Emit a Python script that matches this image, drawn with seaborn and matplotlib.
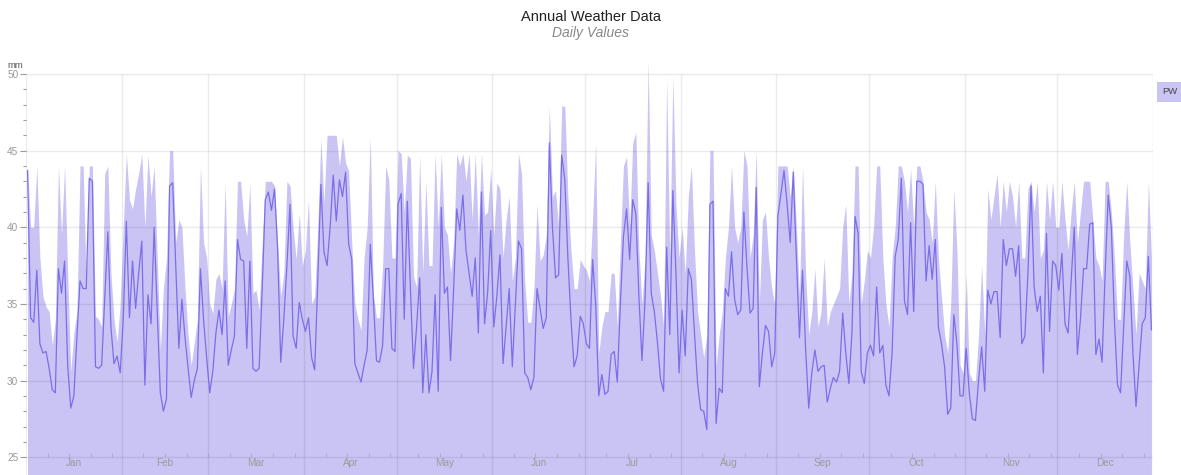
import numpy as np
import matplotlib
matplotlib.use("Agg")
import matplotlib.pyplot as plt
import seaborn as sns

# ---------------- data ----------------
month_names = ["Jan", "Feb", "Mar", "Apr", "May", "Jun",
               "Jul", "Aug", "Sep", "Oct", "Nov", "Dec"]
month_days = [31, 28, 31, 30, 31, 30, 31, 31, 30, 31, 30, 31]
y_ticks = [25, 30, 35, 40, 45, 50]
series_name = "PW"
unit_label = "mm"

# daily PW value (line)
pw_daily = [
    43.7, 34.1, 33.8, 37.2, 32.4, 31.8, 31.9, 30.8, 29.4, 29.2, 37.3, 35.7, 37.8, 31.0, 28.2, 29.0,
    32.9, 36.5, 36.0, 36.0, 43.2, 43.0, 30.9, 30.8, 31.0, 35.3, 39.7, 33.5, 31.1, 31.6, 30.5,
    34.0, 40.4, 34.1, 37.8, 34.7, 37.0, 39.1, 29.7, 35.6, 33.7, 40.0, 34.5, 29.2, 28.0, 28.8,
    42.7, 42.9, 37.5, 32.1, 35.3, 32.8, 30.8, 28.9, 30.0, 30.8, 37.3, 34.0, 31.5,
    29.2, 30.6, 33.1, 34.6, 33.0, 36.5, 31.0, 32.0, 32.9, 39.2, 37.9, 37.8, 32.1, 37.8, 30.8, 30.6,
    30.8, 36.0, 41.8, 42.3, 41.1, 42.5, 38.5, 31.2, 34.0, 37.5, 41.5, 32.9, 32.1, 35.1, 34.0,
    33.2, 34.1, 31.5, 30.7, 36.5, 42.8, 38.4, 37.5, 40.0, 43.4, 40.4, 43.1, 42.0, 43.6, 38.9,
    37.9, 31.1, 30.5, 29.9, 31.0, 32.0, 38.9, 35.3, 31.3, 31.2, 32.3, 37.3, 37.3, 32.1, 31.9,
    41.5, 42.2, 34.0, 41.7, 36.0, 30.8, 33.5, 36.7, 29.2, 33.0, 29.2, 30.6, 35.6, 29.3, 41.3, 35.7,
    36.1, 31.3, 36.0, 41.2, 39.8, 42.1, 38.5, 37.0, 35.5, 38.0, 33.1, 42.3, 33.7, 35.7, 39.8,
    33.5, 35.5, 38.2, 31.1, 33.5, 36.0, 30.9, 35.0, 39.1, 38.6, 30.5, 30.2, 29.4, 30.2, 36.0,
    34.7, 33.4, 34.1, 45.5, 40.0, 36.7, 36.9, 44.7, 43.1, 38.0, 34.0, 30.9, 31.6, 34.2, 33.7,
    32.4, 32.1, 37.9, 35.0, 29.0, 30.4, 29.1, 29.3, 31.7, 31.9, 29.9, 35.0, 39.4, 41.2, 37.9, 41.8,
    40.9, 35.5, 31.3, 35.3, 42.9, 35.7, 34.5, 32.5, 30.1, 29.3, 38.7, 33.0, 42.4, 37.0, 30.5,
    34.6, 31.6, 37.3, 36.6, 33.1, 29.8, 28.1, 28.0, 26.8, 41.5, 41.7, 27.2, 29.5, 29.2, 36.0,
    35.5, 38.4, 35.3, 34.3, 34.6, 41.0, 37.4, 34.4, 34.7, 42.6, 29.6, 31.8, 33.6, 33.2, 30.9, 31.8,
    40.7, 42.2, 43.7, 41.5, 39.0, 43.6, 38.0, 32.8, 37.2, 32.0, 28.2, 30.5, 32.0, 30.6, 30.9,
    31.0, 28.6, 29.5, 30.2, 29.9, 30.6, 34.4, 31.8, 29.8, 33.1, 40.7, 39.6, 30.6, 29.8, 31.8,
    32.3, 31.6, 36.1, 31.8, 32.3, 29.7, 29.0, 31.8, 38.1, 39.2, 43.2, 35.2, 34.3, 40.3, 34.5, 43.0,
    43.0, 42.8, 36.5, 38.8, 36.6, 39.2, 33.5, 32.4, 30.9, 27.8, 28.2, 34.3, 32.4, 29.0, 29.0,
    32.1, 29.2, 27.5, 27.4, 30.0, 32.2, 29.3, 35.9, 35.0, 35.8, 35.8, 32.8, 39.2, 37.5, 38.6,
    38.6, 36.8, 38.8, 32.4, 32.9, 37.0, 42.7, 36.1, 34.5, 35.5, 30.5, 39.6, 33.2, 37.8, 37.5,
    35.9, 38.3, 33.7, 33.1, 36.5, 40.0, 31.7, 34.0, 37.3, 37.3, 40.2, 40.3, 31.7, 32.7, 31.2, 37.0,
    42.1, 40.0, 34.0, 29.7, 29.2, 33.5, 37.8, 36.8, 31.8, 28.3, 31.0, 33.7, 34.1, 38.1, 33.3,
]

# daily upper band (filled area)
pw_upper = [
    44, 40, 40, 44, 38, 35.5, 34.8, 34.5, 32.3, 34, 44, 39.5, 44, 37, 30.6, 33.1,
    34.5, 44, 44, 36.5, 44, 44, 34.2, 34, 33.5, 43.5, 44, 37, 34, 32.5, 35,
    40, 44.8, 41.8, 41.2, 42.5, 43.5, 44.8, 40, 44.7, 42, 44, 38, 32, 36, 38,
    45, 45, 39, 40.5, 40, 36, 33, 31, 32.5, 34, 44, 39, 38,
    35, 34.4, 36.6, 37, 36, 42.9, 34.2, 35, 36, 43, 43, 40.5, 39.4, 42.8, 35.7, 35.9,
    34.6, 39, 43, 43, 43, 42.7, 39, 35.5, 37, 43, 42.7, 40, 37.9, 40.9, 37.5,
    38.5, 41.8, 35, 35.5, 40, 45.8, 41.6, 46, 46, 46, 46, 44, 45.9, 44.2, 43.7,
    39, 35, 34, 33.3, 38, 40, 45.9, 35.7, 34.1, 34.1, 37.5, 44, 43.1, 38, 38,
    45, 44.8, 41, 44.7, 44.5, 36.8, 36.1, 44.7, 37, 43, 37.5, 37.5, 44.8, 40, 44.8, 40,
    39.5, 37, 39, 44.8, 44, 44.8, 43, 44.8, 40.5, 44.8, 39.5, 44.8, 40.8, 41, 43.8,
    39.5, 42.9, 42.5, 38, 40.5, 42, 36.5, 38, 44.8, 43.5, 36.5, 33.8, 33.8, 36, 41.5,
    37.8, 38.2, 39.5, 47.9, 42, 42.4, 40, 47.9, 47.9, 42, 38.5, 36, 36, 37.9, 37.5,
    37.2, 36.5, 40.5, 45.5, 31.8, 33.5, 34.5, 34.5, 37, 37, 33.5, 39, 44, 44.6, 40, 45.5,
    46.2, 38.5, 35, 38, 50.9, 39.5, 38.5, 37, 35.5, 33.5, 49.7, 38, 49.9, 41.5, 38,
    40, 37, 42, 44, 38.5, 34.5, 33, 31.5, 33, 45, 45, 31, 33, 34.5, 38,
    40, 44, 40, 39, 40, 45, 44, 38, 39.5, 45, 35, 40.5, 41, 38, 36, 35,
    44, 44, 44, 44, 42, 44, 40, 35.5, 44, 37, 33, 34.5, 37.3, 33.5, 34.5,
    38, 33.5, 34.5, 35, 35.5, 36, 40, 41.5, 35, 37, 44, 44, 35, 36.5, 38.5,
    38, 40, 44, 44, 38, 35, 33.5, 38, 40, 44, 44, 43, 41, 43.8, 40, 44,
    44, 43, 41, 40.5, 39, 43, 38, 35.5, 33, 31.8, 35, 42.5, 38.5, 31, 30.5,
    37, 30.5, 30, 30, 33, 37.5, 33, 42.5, 40.5, 42, 43.5, 40, 43, 41, 43,
    42, 40, 43, 38, 38, 42.5, 43, 41, 43, 38, 38.5, 43, 40.5, 43, 40,
    40, 43, 40.5, 38.5, 41, 43, 39, 41, 43, 43, 43, 40.5, 38, 37.5, 36.5, 43,
    43, 41, 38, 34, 34, 39.5, 43, 39, 36, 33, 37, 36.5, 36, 43, 38,
]

# ---------------- styling ----------------
sns.set_style("white")
plt.rcParams["font.family"] = ["Liberation Sans", "DejaVu Sans"]

line_color = "#7b6ee9"
fill_color = "#cac4f5"
grid_color = "#000000"
tick_color = "#9a9a9a"

days = np.arange(len(pw_daily)) + 0.5
month_starts = np.concatenate([[0], np.cumsum(month_days)])
month_mids = month_starts[:-1] + np.array(month_days) / 2.0
week_ticks = np.concatenate([s + np.array([7, 14, 21, 28]) for s in month_starts[:-1]])

W, H = 1181, 475
fig = plt.figure(figsize=(W / 100, H / 100), dpi=100)
ax = fig.add_axes([26 / W, 0, 1127 / W, 415 / H])
ymin, ymax = 23.84, 50.91
ax.set_xlim(0, month_starts[-1])
ax.set_ylim(ymin, ymax)

# fill + line
ax.fill_between(days, ymin - 1, pw_upper, color=fill_color, lw=0, zorder=1)
sns.lineplot(x=days, y=pw_daily, ax=ax, color=line_color, lw=0.9, zorder=4)

# grid (drawn over the fill, semi-transparent)
ax.hlines(y_ticks, 0, month_starts[-1], color=grid_color, alpha=0.08, lw=1, zorder=2)
ax.vlines(month_starts[1:-1], ymin, y_ticks[-1], color=grid_color, alpha=0.08, lw=1, zorder=2)
ax.vlines([0, month_starts[-1]], ymin, y_ticks[-1], color=grid_color, alpha=0.07, lw=1, zorder=2)
ax.vlines(week_ticks, y_ticks[0], y_ticks[0] + 0.27, color=tick_color, alpha=0.5, lw=0.8, zorder=2)

for s in ax.spines.values():
    s.set_visible(False)

# y axis
ax.set_yticks(y_ticks)
ax.set_yticks(np.arange(y_ticks[0], y_ticks[-1] + 1, 1), minor=True)
ax.tick_params(axis="y", which="major", left=True, length=4.5, width=0.8,
               color=tick_color, labelcolor=tick_color, labelsize=7.2, pad=1)
ax.tick_params(axis="y", which="minor", left=True, length=2.3, width=0.8, color=tick_color)
ax.set_xticks([])
ax.set_xlabel("")
ax.set_ylabel("")

for mid, name in zip(month_mids, month_names):
    ax.text(mid, 24.6, name, ha="center", va="center", fontsize=7.2, color=tick_color, zorder=5)

fig.text(15 / W, 1 - 65 / H, unit_label, ha="center", va="center", fontsize=6.8, color="#555555")

# titles
fig.text(591 / W, 1 - 17 / H, "Annual Weather Data", ha="center", va="center",
         fontsize=10.5, color="#222222")
fig.text(591 / W, 1 - 33 / H, "Daily Values", ha="center", va="center",
         fontsize=10, style="italic", color="#888888")

# legend box
fig.patches.append(plt.Rectangle((1157 / W, 1 - 102 / H), 30 / W, 20 / H,
                                 transform=fig.transFigure, facecolor=fill_color,
                                 edgecolor="none", figure=fig))
fig.text(1170 / W, 1 - 91 / H, series_name, ha="center", va="center",
         fontsize=6.8, color="#444444")

fig.savefig("out.png", dpi=100)
